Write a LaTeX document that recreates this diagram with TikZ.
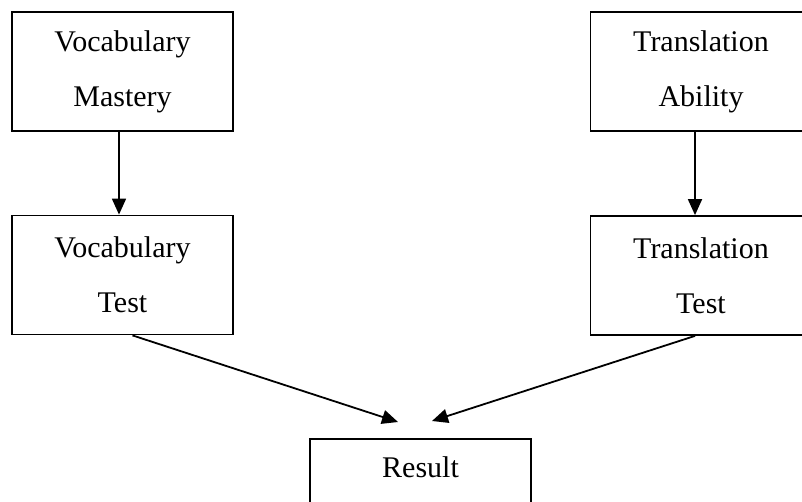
\documentclass[tikz,border=0pt]{standalone}
\usepackage{fontspec}
\setmainfont{Liberation Serif}
\usetikzlibrary{arrows.meta}
\usetikzlibrary{calc}

\begin{document}
\begin{tikzpicture}[x=1pt,y=-1pt,
	box/.style={rectangle,draw,line width=1.8pt,minimum width=221pt,minimum height=119pt,align=center,font=\fontsize{30}{55}\selectfont},
	arr/.style={-{Triangle[length=16pt,width=14pt]},black,line width=1.8pt}]
			\useasboundingbox (0,0) rectangle (802,502);
			\node [box] (vm) at (122.5,71.5) {Vocabulary\\Mastery};
			\node [box] (ta) at (701,71.5) {Translation\\Ability};
			\node [box] (vt) at (122.5,275) {Vocabulary\\Test};
			\node [box] (tt) at (701,275.5) {Translation\\Test};
			\node [box,anchor=north,minimum height=0pt,inner ysep=19pt,text height=20pt,text depth=50pt] (res) at (420.5,438) {Result};
			\coordinate (r1) at ($(res.north)+(-22.5,-16)$);
			\coordinate (r2) at ($(res.north)+(11.5,-17)$);
			\draw [arr] ([xshift=-3.5]vm.south) -- ([xshift=-3.5]vt.north);
			\draw [arr] ([xshift=-6]ta.south) -- ([xshift=-6]tt.north);
			\draw [arr] ([xshift=10]vt.south) -- (r1);
			\draw [arr] ([xshift=-6]tt.south) -- (r2);
		\end{tikzpicture}
\end{document}
